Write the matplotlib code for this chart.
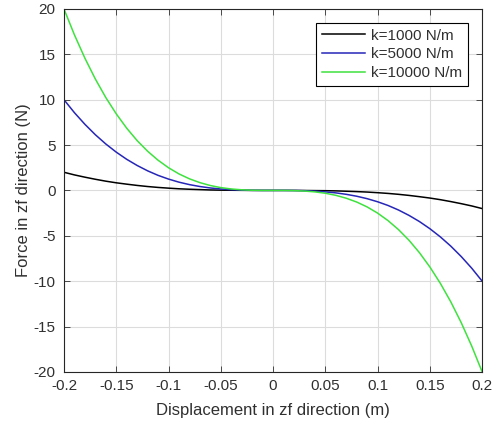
import numpy as np
import matplotlib.pyplot as plt

plt.rcParams['font.family'] = ['Liberation Sans', 'DejaVu Sans']
plt.rcParams['axes.unicode_minus'] = False

# displacement (m), every 0.01 m
disp = [-0.20, -0.19, -0.18, -0.17, -0.16, -0.15, -0.14, -0.13, -0.12, -0.11,
        -0.10, -0.09, -0.08, -0.07, -0.06, -0.05, -0.04, -0.03, -0.02, -0.01,
        0.00, 0.01, 0.02, 0.03, 0.04, 0.05, 0.06, 0.07, 0.08, 0.09,
        0.10, 0.11, 0.12, 0.13, 0.14, 0.15, 0.16, 0.17, 0.18, 0.19, 0.20]

# force (N) for each stiffness
f_1000 = [2.00, 1.71, 1.46, 1.23, 1.02, 0.84, 0.69, 0.55, 0.43, 0.33,
          0.25, 0.18, 0.13, 0.09, 0.05, 0.03, 0.02, 0.01, 0.00, 0.00,
          0.00, 0.00, 0.00, -0.01, -0.02, -0.03, -0.05, -0.09, -0.13, -0.18,
          -0.25, -0.33, -0.43, -0.55, -0.69, -0.84, -1.02, -1.23, -1.46, -1.71, -2.00]
f_5000 = [10.00, 8.57, 7.29, 6.14, 5.12, 4.22, 3.43, 2.75, 2.16, 1.66,
          1.25, 0.91, 0.64, 0.43, 0.27, 0.16, 0.08, 0.03, 0.01, 0.00,
          0.00, 0.00, -0.01, -0.03, -0.08, -0.16, -0.27, -0.43, -0.64, -0.91,
          -1.25, -1.66, -2.16, -2.75, -3.43, -4.22, -5.12, -6.14, -7.29, -8.57, -10.00]
f_10000 = [20.00, 17.15, 14.58, 12.28, 10.24, 8.44, 6.86, 5.49, 4.32, 3.33,
           2.50, 1.82, 1.28, 0.86, 0.54, 0.31, 0.16, 0.07, 0.02, 0.00,
           0.00, 0.00, -0.02, -0.07, -0.16, -0.31, -0.54, -0.86, -1.28, -1.82,
           -2.50, -3.33, -4.32, -5.49, -6.86, -8.44, -10.24, -12.28, -14.58, -17.15, -20.00]

labels = ['k=1000 N/m', 'k=5000 N/m', 'k=10000 N/m']
colors = ['black', '#2626b8', '#3ee23e']

xticks = [-0.2, -0.15, -0.1, -0.05, 0, 0.05, 0.1, 0.15, 0.2]
xticklabels = ['-0.2', '-0.15', '-0.1', '-0.05', '0', '0.05', '0.1', '0.15', '0.2']
yticks = [-20, -15, -10, -5, 0, 5, 10, 15, 20]

fig = plt.figure(figsize=(4.92, 4.26), dpi=100)
ax = fig.add_axes([0.130, 0.127, 0.850, 0.852])

for f, lab, c in zip([f_1000, f_5000, f_10000], labels, colors):
    ax.plot(disp, f, color=c, lw=1.1, label=lab)

ax.set_xlim(-0.2, 0.2)
ax.set_ylim(-20, 20)
ax.set_xticks(xticks)
ax.set_xticklabels(xticklabels)
ax.set_yticks(yticks)
ax.grid(True, color='#dcdcdc', lw=0.8)
ax.set_axisbelow(True)
ax.tick_params(direction='in', top=True, right=True, labelsize=11,
               colors='#303030', length=4, width=0.6)
ax.tick_params(axis='x', pad=5)
ax.tick_params(axis='y', pad=6)
for s in ax.spines.values():
    s.set_color('#262626')
    s.set_linewidth(0.8)

ax.set_xlabel('Displacement in zf direction (m)', fontsize=12, color='#303030', labelpad=7)
ax.set_ylabel('Force in zf direction (N)', fontsize=12, color='#303030', labelpad=2)

leg = ax.legend(loc='upper right', fontsize=11, fancybox=False, framealpha=1,
                edgecolor='black', handlelength=2.8, borderaxespad=0.9,
                borderpad=0.4, labelspacing=0.3, handletextpad=0.4)
leg.get_frame().set_linewidth(0.8)
for t in leg.get_texts():
    t.set_color('#303030')

fig.savefig('out.png', dpi=100)
